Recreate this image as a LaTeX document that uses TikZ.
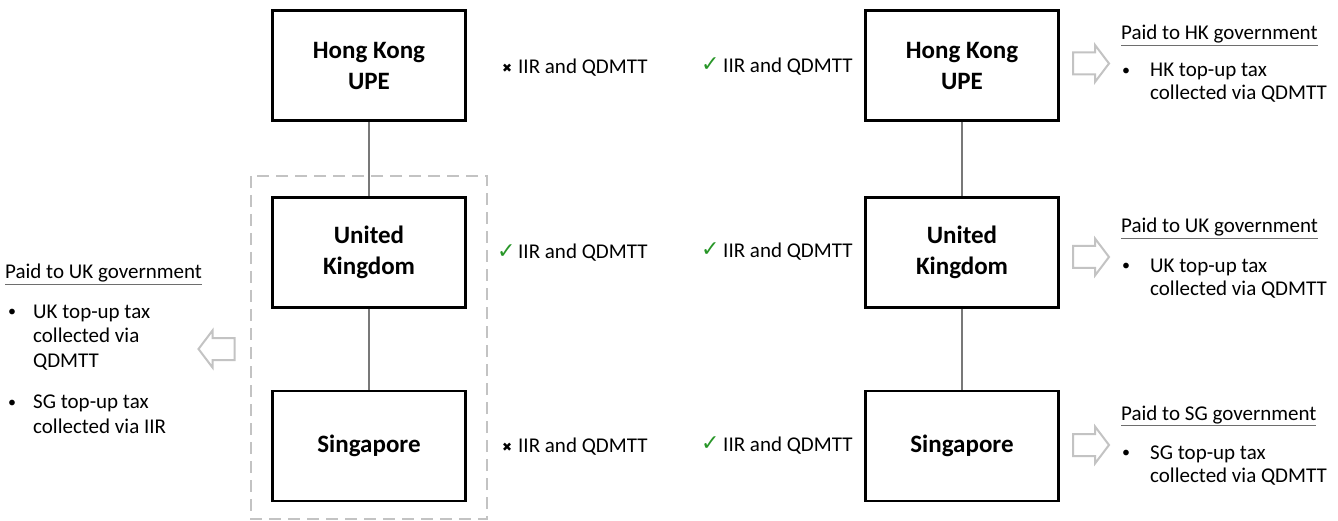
\documentclass[tikz,border=0pt]{standalone}
\usepackage{fontspec}
\setmainfont{Carlito}
\newfontfamily\dejavu{DejaVu Sans}
\definecolor{ckgreen}{RGB}{40,150,40}
\definecolor{arrowgray}{RGB}{195,195,195}
\definecolor{dashgray}{RGB}{195,195,195}
\definecolor{linkgray}{RGB}{120,120,120}
\definecolor{ulgray}{RGB}{110,110,110}
\newcommand{\grayul}[1]{{\color{ulgray}\underline{\color{black}#1}}}
\newcommand{\smallbul}{\raisebox{1.5pt}{\fontsize{16}{16}\selectfont•}}
\begin{document}
\begin{tikzpicture}[x=1pt,y=-1pt,
  entity/.style={draw=black, line width=2.8pt, minimum width=193pt, minimum height=110pt,
    font=\fontsize{25}{31}\selectfont\bfseries, align=center, inner sep=0pt},
  link/.style={draw=linkgray, line width=1.1pt},
  lab/.style={font=\fontsize{21}{24}\selectfont, anchor=west, inner sep=0pt},
  okmark/.style={font=\dejavu\fontsize{22}{22}\selectfont, text=ckgreen, anchor=west, inner sep=0pt},
  nomark/.style={font=\dejavu\fontsize{12}{12}\selectfont, anchor=west, inner sep=0pt},
  note/.style={font=\fontsize{21}{23}\selectfont, anchor=base west, align=left, inner sep=0pt},
  lnote/.style={note, font=\fontsize{21}{24.5}\selectfont},
  arrowline/.style={draw=arrowgray, line width=2pt, fill=white, line join=miter},
  rarrow/.pic={\path[arrowline] (-18,-11) -- (4,-11) -- (4,-18.5) -- (18,0) -- (4,18.5) -- (4,11) -- (-18,11) -- cycle;},
  larrow/.pic={\path[arrowline] (18,-11) -- (-4,-11) -- (-4,-18.5) -- (-18,0) -- (-4,18.5) -- (-4,11) -- (18,11) -- cycle;}
]
\useasboundingbox (0,0) rectangle (1338,521);

% dashed group
\draw[dashgray, line width=2.6pt, dash pattern=on 12pt off 7pt] (251,176) rectangle (487,519);

% left column
\node[entity] (hk1) at (369,65.5) {Hong Kong\\UPE};
\node[entity] (uk1) at (369,252.5) {United\\Kingdom};
\node[entity] (sg1) at (369,446) {Singapore};
\draw[link] (hk1.south) -- (uk1.north);
\draw[link] (uk1.south) -- (sg1.north);

% right column
\node[entity] (hk2) at (962,65.5) {Hong Kong\\UPE};
\node[entity] (uk2) at (962,252.5) {United\\Kingdom};
\node[entity] (sg2) at (962,446) {Singapore};
\draw[link] (hk2.south) -- (uk2.north);
\draw[link] (uk2.south) -- (sg2.north);

% middle labels, first column
\node[nomark] (m1a) at (502,68) {✖};
\node[lab] (t1a) at (518,68) {IIR and QDMTT};
\node[okmark] (m2a) at (497,252) {✓};
\node[lab] (t2a) at (518,253) {IIR and QDMTT};
\node[nomark] (m3a) at (502,447) {✖};
\node[lab] (t3a) at (518,447) {IIR and QDMTT};

% middle labels, second column
\node[okmark] (m1b) at (701,65) {✓};
\node[lab] (t1b) at (723,67) {IIR and QDMTT};
\node[okmark] (m2b) at (701,250) {✓};
\node[lab] (t2b) at (723,252) {IIR and QDMTT};
\node[okmark] (m3b) at (701,444) {✓};
\node[lab] (t3b) at (723,446) {IIR and QDMTT};

% right block arrows
\pic at (1091,63.5) {rarrow};
\pic at (1091,257) {rarrow};
\pic at (1091,445) {rarrow};
% left block arrow
\pic at (216.5,349) {larrow};

% right notes
\node[note] (hkh) at (1121,40) {\grayul{Paid to HK government}};
\node[note] (hkb) at (1122,77) {\smallbul};
\node[note] (hkt) at (1150,100) {HK top-up tax\\collected via QDMTT};

\node[note] (ukh) at (1121,233) {\grayul{Paid to UK government}};
\node[note] (ukb) at (1122,272) {\smallbul};
\node[note] (ukt) at (1150,295) {UK top-up tax\\collected via QDMTT};

\node[note] (sgh) at (1121,420) {\grayul{Paid to SG government}};
\node[note] (sgb) at (1122,459) {\smallbul};
\node[note] (sgt) at (1150,482) {SG top-up tax\\collected via QDMTT};

% left notes
\node[note] (lh) at (5,279) {\grayul{Paid to UK government}};
\node[note] (lb1) at (8,318) {\smallbul};
\node[lnote] (lt1) at (33,367) {UK top-up tax\\collected via\\QDMTT};
\node[note] (lb2) at (8,409) {\smallbul};
\node[lnote] (lt2) at (33,433) {SG top-up tax\\collected via IIR};
\end{tikzpicture}
\end{document}
